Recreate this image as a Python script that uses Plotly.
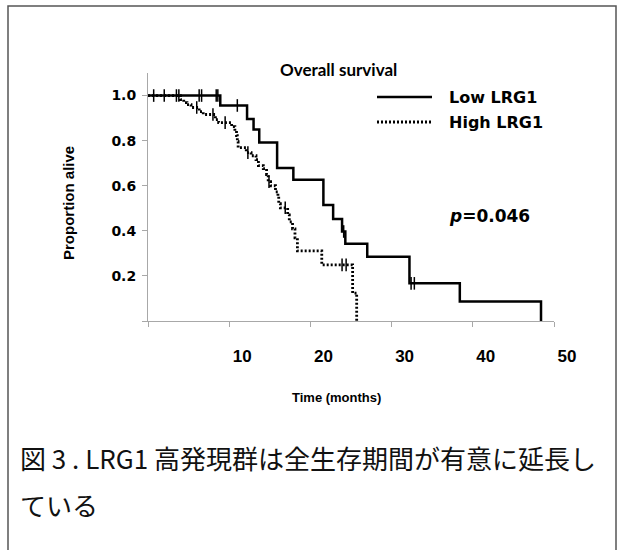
import plotly.graph_objects as go

# ---------------- data ----------------
low_times = [8.9, 12.2, 13.0, 13.7, 15.9, 17.9, 21.6, 22.8, 23.9, 24.3, 27.0, 32.2, 38.4, 48.4]
low_surv = [0.956, 0.896, 0.849, 0.792, 0.679, 0.627, 0.514, 0.452, 0.397, 0.343, 0.285, 0.167, 0.086, 0.0]

high_times = [4.0, 4.4, 4.8, 5.3, 6.3, 6.8, 8.3, 8.7, 10.3, 10.7, 10.9, 11.0, 11.1, 12.1, 12.7,
              13.3, 13.6, 14.2, 14.6, 14.8, 15.1, 15.7, 16.0, 16.1, 16.3, 17.2, 17.4, 17.8,
              18.1, 18.4, 21.4, 25.2, 25.7]
high_surv = [0.982, 0.969, 0.96, 0.947, 0.929, 0.916, 0.893, 0.88, 0.862, 0.844, 0.822, 0.796,
             0.769, 0.747, 0.733, 0.716, 0.689, 0.676, 0.649, 0.618, 0.6, 0.573, 0.551, 0.52,
             0.502, 0.471, 0.44, 0.409, 0.369, 0.311, 0.249, 0.124, 0.0]

low_cens_t = [0.7, 2.0, 3.5, 3.8, 6.3, 6.6, 8.4, 8.6, 11.0, 24.1, 32.4, 32.8]
low_cens_s = [1.0, 1.0, 1.0, 1.0, 1.0, 1.0, 1.0, 1.0, 0.956, 0.397, 0.167, 0.167]

high_cens_t = [6.0, 8.0, 9.5, 12.3, 14.9, 16.9, 23.9, 24.4]
high_cens_s = [0.947, 0.916, 0.88, 0.747, 0.618, 0.502, 0.249, 0.249]

series_names = ["Low LRG1", "High LRG1"]
x_tickvals = [0, 10, 20, 30, 40, 50]
x_ticktext = ["", "10", "20", "30", "40", "50"]
y_tickvals = [0, 0.2, 0.4, 0.6, 0.8, 1.0]
y_ticktext = ["", "0.2", "0.4", "0.6", "0.8", "1.0"]

title_text = "Overall survival"
x_title = "Time (months)"
y_title = "Proportion alive"
p_text = "<i>p</i>=0.046"
caption_lines = ["図 3 . LRG1 高発現群は全生存期間が有意に延長し", "ている"]

# ---------------- layout geometry ----------------
W, H = 624, 550
L, R, T, B = 148, 70, 73, 229
pw, ph = W - L - R, H - T - B


def px(xp):
    return (xp - L) / pw


def py(yp):
    return (H - B - yp) / ph


fig = go.Figure()

fig.add_trace(go.Scatter(
    x=[0] + low_times, y=[1.0] + low_surv, mode="lines", line_shape="hv",
    line=dict(color="black", width=2.5), name=series_names[0], showlegend=False))
fig.add_trace(go.Scatter(
    x=[0] + high_times, y=[1.0] + high_surv, mode="lines", line_shape="hv",
    line=dict(color="black", width=2.8, dash="2px,2px"), name=series_names[1], showlegend=False))
fig.add_trace(go.Scatter(
    x=low_cens_t, y=low_cens_s, mode="markers",
    marker=dict(symbol="line-ns", size=9, line=dict(color="black", width=1.5)),
    showlegend=False, hoverinfo="skip"))
fig.add_trace(go.Scatter(
    x=high_cens_t, y=high_cens_s, mode="markers",
    marker=dict(symbol="line-ns", size=9, line=dict(color="black", width=1.5)),
    showlegend=False, hoverinfo="skip"))

axis_col = "#a8a8a8"
fig.update_xaxes(range=[0, 50], tickvals=x_tickvals, ticktext=x_ticktext,
                 showline=True, linecolor=axis_col, linewidth=1, ticks="outside",
                 ticklen=5, tickcolor=axis_col, showgrid=False, zeroline=False,
                 tickfont=dict(family="Liberation Sans", size=17, color="black", weight="bold"),
                 ticklabelshift=13, ticklabelstandoff=15)
fig.update_yaxes(range=[0, 1.1], tickvals=y_tickvals, ticktext=y_ticktext,
                 showline=True, linecolor=axis_col, linewidth=1, ticks="outside",
                 ticklen=5, tickcolor=axis_col, showgrid=False, zeroline=False,
                 tickfont=dict(family="DejaVu Sans", size=14, color="black", weight="bold"),
                 ticklabelstandoff=3)


def note(x, y, text, family, size, xanchor="left", angle=0, color="black", weight="bold"):
    return dict(xref="paper", yref="paper", x=px(x), y=py(y), text=text, showarrow=False,
                xanchor=xanchor, yanchor="middle", textangle=angle,
                font=dict(family=family, size=size, color=color, weight=weight))


ann = [
    note(338, 70, title_text, "Lato", 17, xanchor="center"),
    note(447, 97, series_names[0], "DejaVu Sans", 16),
    note(447, 122, series_names[1], "DejaVu Sans", 16),
    note(447, 216, p_text, "DejaVu Sans", 17),
    note(336, 397, x_title, "Liberation Sans", 13, xanchor="center"),
    note(68, 203, y_title, "Liberation Sans", 15, xanchor="center", angle=-90),
    note(18, 457, caption_lines[0], "Noto Sans CJK JP", 26, color="#111", weight="normal"),
    note(18, 504, caption_lines[1], "Noto Sans CJK JP", 26, color="#111", weight="normal"),
]

shapes = []
# legend samples
shapes.append(dict(type="line", xref="paper", yref="paper", x0=px(377), x1=px(432),
                   y0=py(97), y1=py(97), line=dict(color="black", width=2.5)))
shapes.append(dict(type="line", xref="paper", yref="paper", x0=px(377), x1=px(432),
                   y0=py(122), y1=py(122), line=dict(color="black", width=2.8, dash="2px,2px")))
# outer frame
shapes.append(dict(type="rect", xref="paper", yref="paper", x0=px(8), x1=px(616),
                   y0=py(565), y1=py(6), line=dict(color="#555", width=1.5)))

fig.update_layout(width=W, height=H, margin=dict(l=L, r=R, t=T, b=B, autoexpand=False),
                  paper_bgcolor="white", plot_bgcolor="white", showlegend=False,
                  annotations=ann, shapes=shapes)

fig.write_html("out.html")
